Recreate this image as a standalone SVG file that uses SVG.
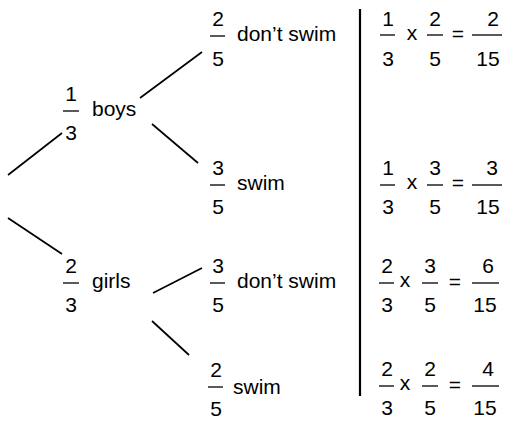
<svg xmlns="http://www.w3.org/2000/svg" width="506" height="423" viewBox="0 0 506 423">
<style>
text{font-family:"Liberation Sans",Arial,sans-serif;font-size:21px;fill:#000}
.m{text-anchor:middle}
.bar{stroke:#000;stroke-width:1.3}
.edge{stroke:#000;stroke-width:1.7;fill:none}
</style>
<rect width="506" height="423" fill="#fff"/>
<g id="connectors">
<line class="edge" x1="8" y1="175" x2="62" y2="133"/>
<line class="edge" x1="8" y1="218" x2="62" y2="254"/>
<line class="edge" x1="140" y1="98" x2="202" y2="52"/>
<line class="edge" x1="152" y1="124" x2="198" y2="163"/>
<line class="edge" x1="153" y1="293" x2="202" y2="268"/>
<line class="edge" x1="152" y1="321" x2="189" y2="355"/>
<line x1="360" y1="9" x2="360" y2="396" stroke="#000" stroke-width="2.2"/>
</g>
<g id="boys">
<text class="m" x="71" y="101">1</text><line class="bar" x1="63" y1="111" x2="79" y2="111"/><text class="m" x="71" y="140">3</text>
<text x="92" y="116">boys</text>
</g>
<g id="girls">
<text class="m" x="71" y="273">2</text><line class="bar" x1="63" y1="283" x2="79" y2="283"/><text class="m" x="71" y="312">3</text>
<text x="92" y="288">girls</text>
</g>
<g id="boys-dont-swim">
<text class="m" x="218" y="26">2</text><line class="bar" x1="210" y1="36" x2="225" y2="36"/><text class="m" x="218" y="66">5</text>
<text x="237" y="41">don’t swim</text>
</g>
<g id="boys-swim">
<text class="m" x="218" y="175">3</text><line class="bar" x1="210" y1="185" x2="225" y2="185"/><text class="m" x="218" y="214">5</text>
<text x="237" y="190">swim</text>
</g>
<g id="girls-dont-swim">
<text class="m" x="218" y="273">3</text><line class="bar" x1="210" y1="283" x2="225" y2="283"/><text class="m" x="218" y="312">5</text>
<text x="237" y="288">don’t swim</text>
</g>
<g id="girls-swim">
<text class="m" x="216" y="377">2</text><line class="bar" x1="208" y1="387" x2="223" y2="387"/><text class="m" x="216" y="416">5</text>
<text x="233" y="394">swim</text>
</g>
<g id="calc1">
<text class="m" x="388" y="26">1</text><line class="bar" x1="380" y1="35" x2="395" y2="35"/><text class="m" x="388" y="66">3</text>
<text class="m" x="412" y="40">x</text>
<text class="m" x="435" y="26">2</text><line class="bar" x1="427" y1="35" x2="443" y2="35"/><text class="m" x="435" y="66">5</text>
<text class="m" x="458" y="41">=</text>
<text class="m" x="493" y="26">2</text><line class="bar" x1="472" y1="35" x2="502" y2="35"/><text class="m" x="488" y="66">15</text>
</g>
<g id="calc2">
<text class="m" x="388" y="175">1</text><line class="bar" x1="380" y1="185" x2="395" y2="185"/><text class="m" x="388" y="214">3</text>
<text class="m" x="412" y="189">x</text>
<text class="m" x="435" y="175">3</text><line class="bar" x1="427" y1="185" x2="443" y2="185"/><text class="m" x="435" y="214">5</text>
<text class="m" x="458" y="190">=</text>
<text class="m" x="492" y="175">3</text><line class="bar" x1="472" y1="185" x2="502" y2="185"/><text class="m" x="488" y="214">15</text>
</g>
<g id="calc3">
<text class="m" x="387" y="273">2</text><line class="bar" x1="379" y1="283" x2="394" y2="283"/><text class="m" x="387" y="312">3</text>
<text class="m" x="405" y="287">x</text>
<text class="m" x="430" y="273">3</text><line class="bar" x1="422" y1="283" x2="438" y2="283"/><text class="m" x="430" y="312">5</text>
<text class="m" x="455" y="289">=</text>
<text class="m" x="488" y="273">6</text><line class="bar" x1="472" y1="283" x2="499" y2="283"/><text class="m" x="485" y="312">15</text>
</g>
<g id="calc4">
<text class="m" x="387" y="376">2</text><line class="bar" x1="379" y1="386" x2="394" y2="386"/><text class="m" x="387" y="415">3</text>
<text class="m" x="405" y="390">x</text>
<text class="m" x="430" y="376">2</text><line class="bar" x1="422" y1="386" x2="438" y2="386"/><text class="m" x="430" y="415">5</text>
<text class="m" x="455" y="392">=</text>
<text class="m" x="488" y="376">4</text><line class="bar" x1="472" y1="386" x2="499" y2="386"/><text class="m" x="485" y="415">15</text>
</g>
</svg>
